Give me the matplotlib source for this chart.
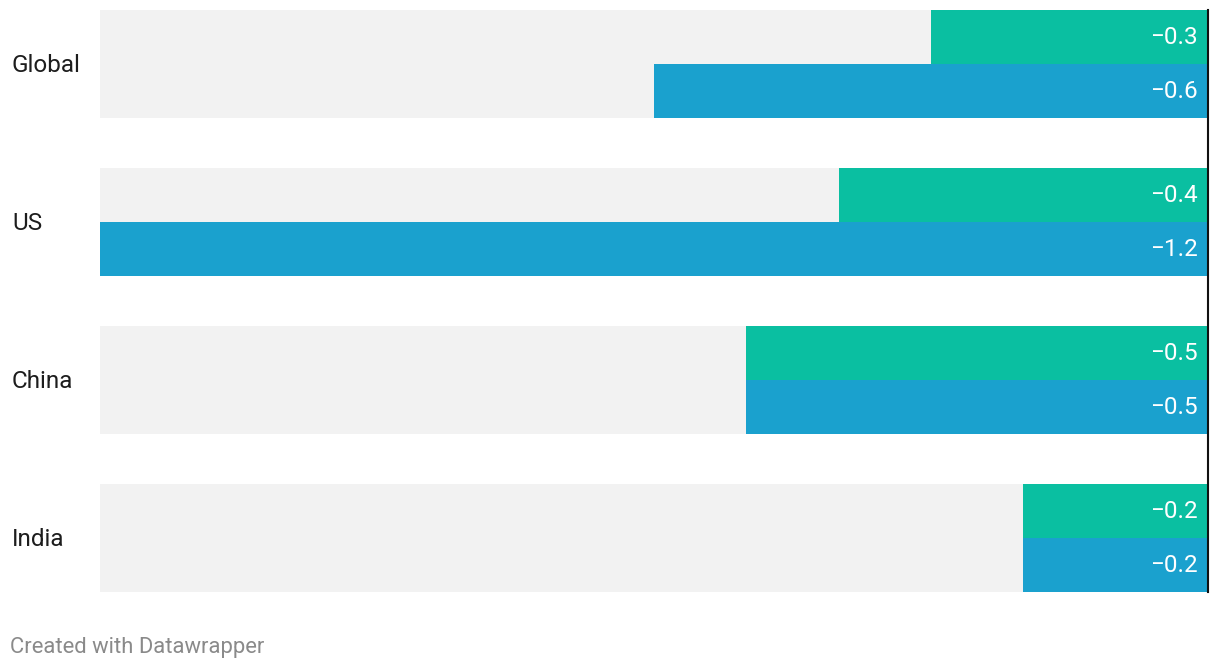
import matplotlib.pyplot as plt
import numpy as np

plt.rcParams["font.family"] = ["Roboto", "DejaVu Sans"]

regions = ["Global", "US", "China", "India"]
series_a = [-0.3, -0.4, -0.5, -0.2]   # green
series_b = [-0.6, -1.2, -0.5, -0.2]   # blue
xmin = -1.2

GREEN = "#0abfa1"
BLUE = "#1aa1ce"
GREY = "#f2f2f2"

W, H = 1220, 668
fig = plt.figure(figsize=(W / 100, H / 100), dpi=100)
ax = fig.add_axes([100 / W, (H - 592) / H, 1108 / W, 582 / H])

pitch = 158.0
bar_h = 54 / pitch
nudge = 2 / pitch  # push text down a touch
y = np.arange(len(regions))

# grey backing for each group
ax.barh(y, [xmin] * len(regions), height=2 * bar_h, color=GREY, left=0)
ax.barh(y - bar_h / 2, series_a, height=bar_h, color=GREEN)
ax.barh(y + bar_h / 2, series_b, height=bar_h, color=BLUE)

for yi, va, vb in zip(y, series_a, series_b):
    ax.text(-0.0115, yi - bar_h / 2, f"\u2212{abs(va):.1f}", ha="right",
            va="center", color="white", fontsize=17.5)
    ax.text(-0.0115, yi + bar_h / 2, f"\u2212{abs(vb):.1f}", ha="right",
            va="center", color="white", fontsize=17.5)

ax.axvline(0, color="#111111", linewidth=1.5, clip_on=False)

ax.set_xlim(xmin, 0)
ax.set_ylim(len(regions) - 1 + bar_h, -bar_h)
ax.axis("off")

for yi, name in zip(y, regions):
    ax.text((12 - 100) / 1108, yi + nudge, name, transform=ax.get_yaxis_transform(),
            ha="left", va="center", fontsize=17.5, color="#1d1d1d")

fig.text(10 / W, 1 - 647 / H, "Created with Datawrapper", ha="left", va="center",
         fontsize=15.8, color="#8a8a8a")

fig.savefig("out.png", dpi=100)
